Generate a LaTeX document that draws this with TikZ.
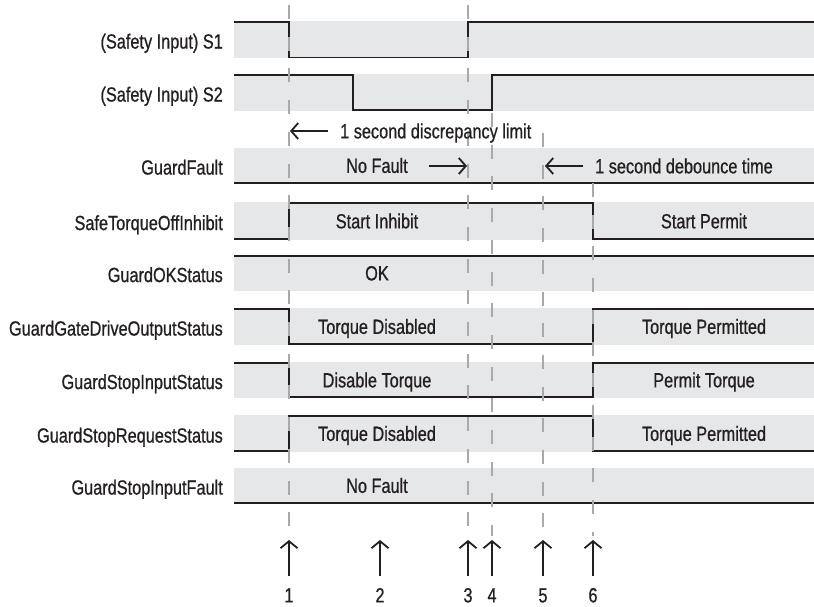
\documentclass[tikz,border=0pt]{standalone}
\usepackage{fontspec}
\setmainfont{Liberation Sans}[FakeStretch=0.795, FakeBold=0.7]
\usetikzlibrary{arrows.meta, positioning}
\definecolor{tdBand}{HTML}{E6E7E8}
\definecolor{tdGuide}{HTML}{A7A9AC}
\definecolor{tdInk}{HTML}{231F20}

\begin{document}
\begin{tikzpicture}[x=1pt, y=-1pt, font=\fontsize{20.5}{24}\selectfont,
        band/.style={fill=tdBand, minimum width=580pt, inner sep=0pt, anchor=north west},
        txt/.style={text=tdInk, inner sep=0pt, text height=14.7pt, text depth=0pt},
        lbl/.style={txt, yshift=-1.5pt},
        wave/.style={tdInk, line width=1.8pt},
        guide/.style={tdGuide, line width=1.9pt, dash pattern=on 14pt off 17.7pt},
        evt/.style={-{Straight Barb[length=7pt, width=17pt]}, tdInk, line width=1.8pt},
        ptr/.style={-{Straight Barb[length=7pt, width=16pt]}, tdInk, line width=1.8pt}]
  \useasboundingbox (0,0) rectangle (814,606);
  % signal rows
  \foreach \i/\top/\h/\name in {1/21/37/{(Safety Input) S1}, 2/74/37/{(Safety Input) S2},
      3/148/35/{GuardFault}, 4/202/38/{SafeTorqueOffInhibit}, 5/255/36/{GuardOKStatus},
      6/308/37/{GuardGateDriveOutputStatus}, 7/362/36/{GuardStopInputStatus},
      8/415/37/{GuardStopRequestStatus}, 9/468/35/{GuardStopInputFault}}{
    \node[band, minimum height=\h pt] (b\i) at (234,\top) {};
    \node[lbl, anchor=east, left=11pt of b\i] (l\i) {\name};
  }
  % waveforms
  \draw[wave] (234,22) -- (289,22) -- (289,57.5) -- (468,57.5) -- (468,22) -- (814,22);
  \draw[wave] (234,75) -- (353,75) -- (353,110) -- (492,110) -- (492,75) -- (814,75);
  \draw[wave] (234,183) -- (814,183);
  \draw[wave] (234,239) -- (289,239) -- (289,203) -- (593,203) -- (593,239) -- (814,239);
  \draw[wave] (234,256) -- (814,256);
  \draw[wave] (234,309) -- (289,309) -- (289,344) -- (593,344) -- (593,309) -- (814,309);
  \draw[wave] (234,363) -- (289,363) -- (289,397) -- (593,397) -- (593,363) -- (814,363);
  \draw[wave] (234,451) -- (289,451) -- (289,416) -- (593,416) -- (593,451) -- (814,451);
  \draw[wave] (234,503) -- (814,503);
  % events
  \foreach \n/\x in {1/289, 2/380, 3/468, 4/492, 5/543, 6/593}{
    \node[txt] (n\n) at (\x,595) {\n};
    \coordinate (e\n) at (\x,540);
    \draw[evt] ([yshift=11pt]n\n.north) -- (e\n);
  }
  \foreach \n/\x/\top in {1/289/5, 3/468/5, 4/492/113, 5/543/133, 6/593/183}
    \draw[guide] (\x,\top) -- ([yshift=4pt]e\n);
  % state texts
  \node[txt] (gfNo) at (377,165.5) {No Fault};
  \node[txt] (stoA) at (377,221) {Start Inhibit};
  \node[txt] (stoB) at (704,221) {Start Permit};
  \node[txt] (okA) at (377,273) {OK};
  \node[txt] (gdA) at (377,326.5) {Torque Disabled};
  \node[txt] (gdB) at (704,326.5) {Torque Permitted};
  \node[txt] (siA) at (377,380) {Disable Torque};
  \node[txt] (siB) at (704,380) {Permit Torque};
  \node[txt] (srA) at (377,433.5) {Torque Disabled};
  \node[txt] (srB) at (704,433.5) {Torque Permitted};
  \node[txt] (sfA) at (377,485.5) {No Fault};
  % timing notes
  \node[txt, anchor=west] (dl) at (340,131) {1 second discrepancy limit};
  \coordinate (dlTip) at (290,131);
  \draw[ptr] ([xshift=-12pt]dl.west) -- (dlTip);
  \coordinate (gfTip) at (467,166);
  \draw[ptr] (429,166) -- (gfTip);
  \node[txt, anchor=west] (db) at (595,166) {1 second debounce time};
  \coordinate (dbTip) at (545,166);
  \draw[ptr] ([xshift=-12pt]db.west) -- (dbTip);
\end{tikzpicture}
\end{document}
